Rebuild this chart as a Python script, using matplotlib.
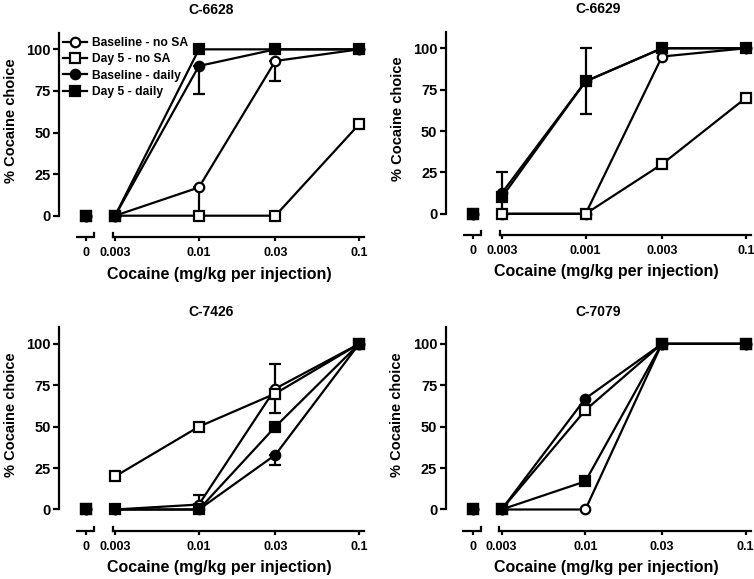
import numpy as np
import matplotlib.pyplot as plt

plt.rcParams['font.family'] = ['Liberation Sans', 'DejaVu Sans']
plt.rcParams['font.weight'] = 'bold'
plt.rcParams['axes.labelweight'] = 'bold'

# doses (mg/kg per injection); 0 is drawn on its own little axis segment
doses = [0, 0.003, 0.01, 0.03, 0.1]
labels = ['Baseline - no SA', 'Day 5 - no SA', 'Baseline - daily', 'Day 5 - daily']
tick_labels = ['0', '0.003', '0.01', '0.03', '0.1']
tick_labels_6629 = ['0', '0.003', '0.001', '0.003', '0.1']   # as printed in the original

# C-6628
c6628_bl_nosa = [0, 0, 17, 93, 100]
c6628_d5_nosa = [0, 0, 0, 0, 55]
c6628_bl_daily = [0, 0, 90, 100, 100]
c6628_d5_daily = [0, 0, 100, 100, 100]
c6628_bl_nosa_err = ([0, 0, 17, 12, 0], [0, 0, 0, 0, 0])
c6628_bl_daily_err = ([0, 0, 17, 0, 0], [0, 0, 0, 0, 0])

# C-6629
c6629_bl_nosa = [0, 0, 0, 95, 100]
c6629_d5_nosa = [0, 0, 0, 30, 70]
c6629_bl_daily = [0, 12.5, 80, 100, 100]
c6629_d5_daily = [0, 10, 80, 100, 100]
c6629_bl_daily_err = ([0, 12.5, 20, 0, 0], [0, 12.5, 20, 0, 0])

# C-7426
c7426_bl_nosa = [0, 0, 3, 73, 100]
c7426_d5_nosa = [0, 20, 50, 70, 100]
c7426_bl_daily = [0, 0, 0, 33, 100]
c7426_d5_daily = [0, 0, 0, 50, 100]
c7426_bl_nosa_err = ([0, 0, 3, 15, 0], [0, 0, 6, 15, 0])
c7426_bl_daily_err = ([0, 0, 0, 6, 0], [0, 0, 0, 0, 0])

# C-7079
c7079_bl_nosa = [0, 0, 0, 100, 100]
c7079_d5_nosa = [0, 0, 60, 100, 100]
c7079_bl_daily = [0, 0, 67, 100, 100]
c7079_d5_daily = [0, 0, 17, 100, 100]

no_err = ([0] * 5, [0] * 5)

panels = [
    ('C-6628', [c6628_bl_nosa, c6628_d5_nosa, c6628_bl_daily, c6628_d5_daily],
     [c6628_bl_nosa_err, no_err, c6628_bl_daily_err, no_err], tick_labels,
     (59, 32.7, 237), 1.109),
    ('C-6629', [c6629_bl_nosa, c6629_d5_nosa, c6629_bl_daily, c6629_d5_daily],
     [no_err, no_err, c6629_bl_daily_err, no_err], tick_labels_6629,
     (445.7, 31.7, 235), 1.11),
    ('C-7426', [c7426_bl_nosa, c7426_d5_nosa, c7426_bl_daily, c7426_d5_daily],
     [c7426_bl_nosa_err, no_err, c7426_bl_daily_err, no_err], tick_labels,
     (59, 327.3, 530.7), 1.075),
    ('C-7079', [c7079_bl_nosa, c7079_d5_nosa, c7079_bl_daily, c7079_d5_daily],
     [no_err] * 4, tick_labels,
     (445.5, 327.3, 530.7), 1.075),
]

styles = [('o', 'white'), ('s', 'white'), ('o', 'black'), ('s', 'black')]

# where the "0" dose sits on the log axis, and the broken axis pieces
ZERO_AT = 0.00198
ZSEG = (0.00171, 0.00222)
MAIN_START = 0.00291
XLIM = (0.00134, 0.1072)
YLIM = (-12.8, 110)
MS = 6.8

W, H = 754, 579
fig = plt.figure(figsize=(W / 100, H / 100), dpi=100)

for name, series, errs, xt, (left, top, bottom), ty in panels:
    ax = fig.add_axes([left / W, (H - bottom) / H, 305 / W, (bottom - top) / H])
    ax.set_xscale('log')
    ax.set_xlim(XLIM)
    ax.set_ylim(YLIM)

    for vals, err, (mk, fc), lab in zip(series, errs, styles, labels):
        lo = np.array(err[0][1:])
        hi = np.array(err[1][1:])
        has = (lo + hi) > 0
        x_main = np.array(doses[1:])
        y_main = np.array(vals[1:])
        ax.plot(x_main, y_main, color='black', lw=1.6, marker=mk, ms=MS,
                mfc=fc, mec='black', mew=1.6, clip_on=False, label=lab, zorder=3)
        if has.any():
            ax.errorbar(x_main[has], y_main[has], yerr=[lo[has], hi[has]], fmt='none',
                        ecolor='black', elinewidth=1.6, capsize=4, capthick=1.6,
                        clip_on=False, zorder=2)
        # dose 0 point, not joined to the curve
        ax.plot([ZERO_AT], [vals[0]], ls='none', marker=mk, ms=MS, mfc=fc,
                mec='black', mew=1.6, clip_on=False, zorder=3)

    for s in ['top', 'right']:
        ax.spines[s].set_visible(False)
    ax.spines['left'].set_linewidth(1.6)
    ax.spines['bottom'].set_linewidth(1.6)
    ax.spines['left'].set_bounds(0, 110)
    ax.spines['bottom'].set_bounds(MAIN_START, XLIM[1])

    # short separate axis piece for dose 0 plus break marks
    ax.plot(ZSEG, [YLIM[0], YLIM[0]], color='black', lw=1.6, clip_on=False,
            solid_capstyle='butt')
    ax.plot([ZSEG[1], ZSEG[1]], [YLIM[0], YLIM[0] + 2.2], color='black', lw=1.6,
            clip_on=False)
    ax.plot([MAIN_START, MAIN_START], [YLIM[0], YLIM[0] + 2.2], color='black',
            lw=1.6, clip_on=False)

    ax.set_xticks([ZERO_AT] + doses[1:])
    ax.set_xticklabels(xt)
    ax.xaxis.set_minor_locator(plt.NullLocator())
    ax.set_yticks([0, 25, 50, 75, 100])
    ax.tick_params(axis='x', length=3, width=1.6, pad=4.5, labelsize=9)
    ax.tick_params(axis='y', length=4, width=1.6, pad=2, labelsize=10.5)
    for t in ax.get_xticklabels() + ax.get_yticklabels():
        t.set_fontweight('bold')

    ax.set_ylabel('% Cocaine choice', fontsize=10.5)
    ax.yaxis.set_label_coords(-0.135, 0.57)
    ax.set_xlabel('Cocaine (mg/kg per injection)', fontsize=11.5)
    ax.xaxis.set_label_coords(0.526, -0.145)
    ax.text(0.5, ty, name, transform=ax.transAxes, ha='center', va='center',
            fontsize=10, fontweight='bold')

    if name == 'C-6628':
        ax.legend(loc='upper left', bbox_to_anchor=(0.013, 0.98), frameon=False,
                  handlelength=2.0, handletextpad=0.4,
                  labelspacing=0.37, borderpad=0, borderaxespad=0, numpoints=1,
                  prop={'weight': 'bold', 'size': 8.7})

fig.savefig('out.png', dpi=100)
